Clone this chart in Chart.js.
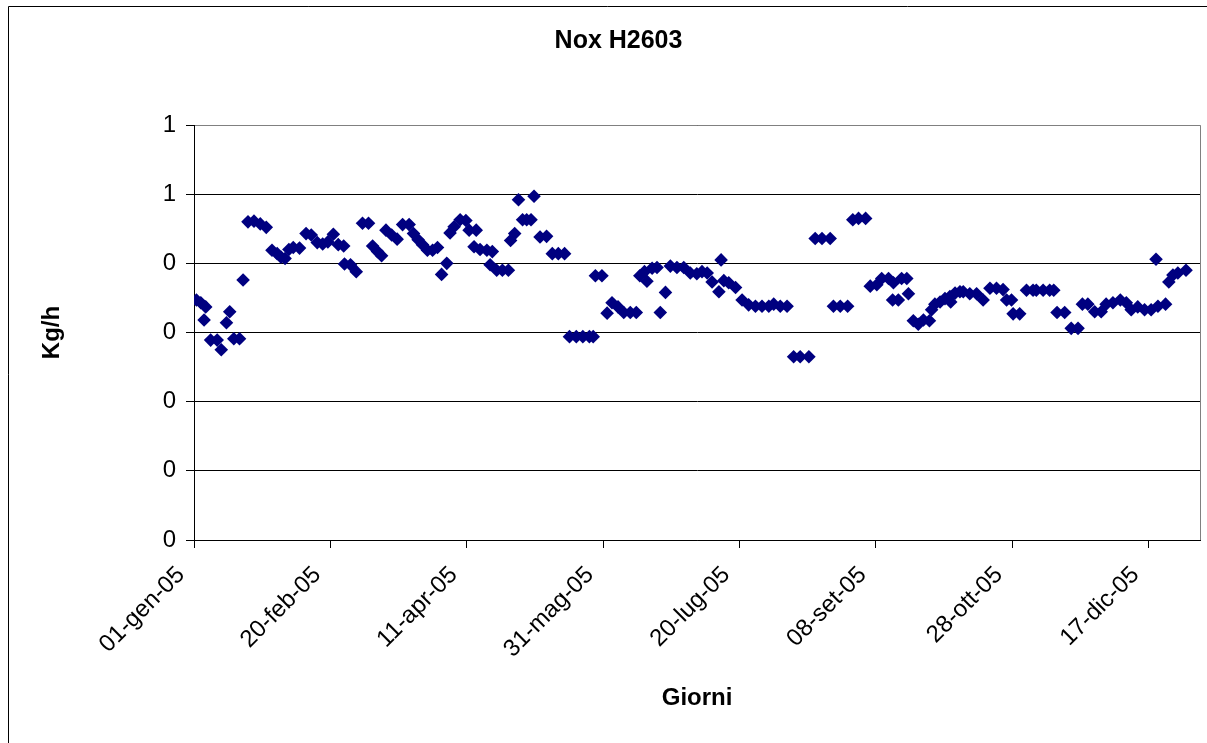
<!DOCTYPE html>
<html><head><meta charset="utf-8">
<script src="https://cdn.jsdelivr.net/npm/chart.js@4.4.0/dist/chart.umd.min.js"></script>
<style>html,body{margin:0;padding:0;background:#fff;overflow:hidden}</style>
</head><body>
<canvas id="c" width="1207" height="743" style="display:block;width:1207px;height:743px"></canvas>
<script>
const chartTitle = 'Nox H2603';
const xAxisTitle = 'Giorni';
const yAxisTitle = 'Kg/h';
const tickDays = [0, 50, 100, 150, 200, 250, 300, 350];
const tickLabels = ['01-gen-05','20-feb-05','11-apr-05','31-mag-05','20-lug-05','08-set-05','28-ott-05','17-dic-05'];
// days since 01-gen-05
const dayNumbers = [
0.9,2.5,4.3,3.7,6.1,8.5,10.0,11.9,13.1,14.6,16.7,18.0,19.8,22.0,24.3,26.5,
28.6,30.5,31.9,33.4,34.8,36.4,38.7,
41.1,43.0,45.2,47.2,49.1,51.1,52.9,54.9,55.2,57.4,59.5,
61.8,64.0,65.5,67.3,68.8,70.4,72.5,74.5,76.5,78.9,
80.5,82.2,83.8,85.6,87.5,89.3,90.8,92.7,
93.9,95.4,97.6,99.7,100.9,103.5,102.7,104.9,107.4,109.4,
108.6,111.0,113.1,115.3,116.1,117.6,119.0,120.5,122.0,123.6,
124.7,126.9,129.3,131.4,133.6,135.9,
137.7,140.2,142.6,145.0,146.4,147.2,149.6,
151.5,153.3,155.5,157.6,160.0,162.2,
163.5,165.2,166.1,168.0,169.8,171.0,172.9,
174.7,177.1,179.6,182.0,184.4,186.3,188.2,
190.0,192.5,193.3,194.3,196.1,198.6,
201.0,203.4,205.9,208.3,210.8,212.6,215.0,217.5,
219.9,222.3,225.5,227.8,230.3,233.3,234.5,237.0,239.7,
241.6,243.7,246.3,248.0,250.4,
252.2,254.7,256.5,259.5,261.4,256.2,258.3,262.0,
263.8,265.6,267.5,269.7,
270.5,271.7,273.6,275.4,277.2,277.5,279.1,280.9,
282.1,284.5,287.0,289.4,291.9,294.3,296.7,
298.0,299.8,300.4,302.8,305.3,307.7,
308.9,311.4,313.8,315.3,316.5,319.3,321.7,324.2,
325.8,327.8,330.3,332.7,334.5,337.0,339.7,341.9,343.7,346.1,348.6,351.0,353.5,356.3,
352.8,357.5,359.0,360.8,363.8
];
const noxValues = [
0.347,0.343,0.337,0.318,0.289,0.289,0.275,0.314,0.330,0.291,0.291,0.376,0.460,0.461,0.457,0.452,
0.419,0.414,0.409,0.407,0.420,0.423,0.422,
0.443,0.441,0.430,0.428,0.431,0.442,0.427,0.425,0.399,0.398,0.388,
0.458,0.458,0.425,0.417,0.411,0.448,0.441,0.435,0.456,0.456,
0.443,0.434,0.427,0.419,0.419,0.423,0.384,0.400,
0.444,0.453,0.463,0.462,0.448,0.448,0.424,0.420,0.419,0.417,
0.398,0.390,0.390,0.390,0.433,0.443,0.492,0.463,0.463,0.463,
0.497,0.438,0.439,0.414,0.414,0.414,
0.294,0.294,0.294,0.294,0.294,0.382,0.382,
0.328,0.343,0.337,0.329,0.329,0.329,
0.382,0.388,0.374,0.393,0.394,0.329,0.358,
0.396,0.394,0.394,0.386,0.385,0.388,0.386,
0.373,0.359,0.405,0.375,0.372,0.365,
0.347,0.340,0.338,0.338,0.338,0.341,0.338,0.338,
0.265,0.265,0.265,0.436,0.436,0.436,0.338,0.338,0.338,
0.463,0.465,0.465,0.367,0.369,
0.378,0.378,0.372,0.378,0.378,0.347,0.347,0.356,
0.317,0.312,0.318,0.317,
0.333,0.341,0.344,0.349,0.352,0.344,0.357,0.359,
0.359,0.356,0.356,0.347,0.364,0.364,0.362,
0.347,0.347,0.327,0.327,0.361,0.361,
0.361,0.361,0.361,0.361,0.329,0.329,0.306,0.306,
0.341,0.341,0.330,0.330,0.341,0.343,0.347,0.343,0.333,0.337,0.333,0.333,0.338,0.341,
0.406,0.373,0.383,0.386,0.390
];

const FONT = '"Liberation Sans", Arial, sans-serif';

const framePlugin = {
  id: 'frame',
  beforeDraw(chart) {
    const ctx = chart.ctx;
    ctx.save();
    ctx.fillStyle = '#fff';
    ctx.fillRect(0, 0, chart.width, chart.height);
    ctx.strokeStyle = '#000';
    ctx.lineWidth = 1;
    ctx.beginPath();
    ctx.moveTo(8.5, chart.height);
    ctx.lineTo(8.5, 6.5);
    ctx.lineTo(chart.width, 6.5);
    ctx.stroke();
    ctx.restore();
  },
  afterDraw(chart) {
    const a = chart.chartArea;
    const ctx = chart.ctx;
    ctx.save();
    ctx.strokeStyle = '#808080';
    ctx.lineWidth = 1;
    ctx.beginPath();
    ctx.moveTo(Math.round(a.left) + 1, Math.round(a.top) + 0.5);
    ctx.lineTo(Math.round(a.right) + 0.5, Math.round(a.top) + 0.5);
    ctx.lineTo(Math.round(a.right) + 0.5, Math.round(a.bottom));
    ctx.stroke();
    ctx.restore();
  }
};

new Chart(document.getElementById('c'), {
  type: 'scatter',
  data: {
    datasets: [{
      label: 'Nox',
      data: dayNumbers.map((d, i) => ({ x: d, y: noxValues[i] })),
      pointStyle: 'rectRot',
      pointRadius: 6.8,
      pointHoverRadius: 6.8,
      borderWidth: 0,
      backgroundColor: '#000080',
      borderColor: '#000080'
    }]
  },
  plugins: [framePlugin],
  options: {
    responsive: false,
    animation: false,
    devicePixelRatio: 1,
    layout: { padding: { left: 34, right: 4, top: 0, bottom: 0 } },
    plugins: {
      legend: { display: false },
      tooltip: { enabled: false },
      title: {
        display: true,
        text: chartTitle,
        color: '#000',
        font: { family: FONT, size: 25, weight: 'bold' },
        padding: { top: 26, bottom: 69 }
      }
    },
    scales: {
      x: {
        type: 'linear',
        min: 0,
        max: 369,
        afterBuildTicks: (axis) => { axis.ticks = tickDays.map(v => ({ value: v })); },
        afterFit: (s) => { s.height = 203; },
        ticks: {
          autoSkip: false,
          minRotation: 45,
          maxRotation: 45,
          padding: 13,
          labelOffset: -13,
          color: '#000',
          font: { family: FONT, size: 24 },
          callback: (v) => { const i = tickDays.indexOf(v); return i >= 0 ? tickLabels[i] : ''; }
        },
        grid: { display: true, drawOnChartArea: false, drawTicks: true, tickLength: 8, color: '#000', lineWidth: 1 },
        border: { display: true, color: '#000', width: 1 },
        title: {
          display: true,
          text: xAxisTitle,
          color: '#000',
          font: { family: FONT, size: 24, weight: 'bold' },
          padding: { top: 30, bottom: 30 }
        }
      },
      y: {
        type: 'linear',
        min: 0,
        max: 0.6,
        afterFit: (s) => { s.width = 160; },
        ticks: {
          stepSize: 0.1,
          padding: 10,
          color: '#000',
          font: { family: FONT, size: 24 },
          callback: (v) => String(Math.round(Number(Number(v).toFixed(1))))
        },
        grid: { display: true, drawTicks: true, tickLength: 8, color: '#000', lineWidth: 1 },
        border: { display: true, color: '#000', width: 1 },
        title: {
          display: true,
          text: yAxisTitle,
          color: '#000',
          font: { family: FONT, size: 24, weight: 'bold' },
          padding: { top: 4, bottom: 4 }
        }
      }
    }
  }
});
</script>
</body></html>
